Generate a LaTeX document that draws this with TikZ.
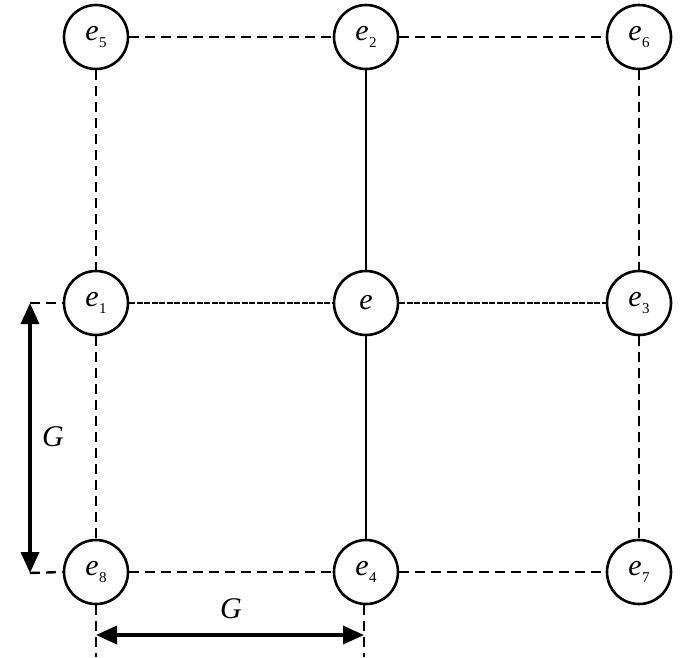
\documentclass[tikz,border=0pt]{standalone}
\usepackage{fontspec}
\setmainfont{Liberation Serif}
\usetikzlibrary{arrows.meta}
\newcommand{\elab}[1]{\textit{e}\kern0.5pt\raisebox{-7pt}{\fontsize{15}{15}\selectfont #1}}
\tikzset{
  gnode/.style={circle,draw,line width=2.6pt,minimum size=64pt,inner sep=0pt,fill=white,font=\fontsize{30}{30}\selectfont},
  outer/.style={line width=2.4pt,dash pattern=on 10pt off 6pt},
  midline/.style={line width=2.4pt,dash pattern=on 6pt off 1.5pt},
  solidline/.style={line width=2.4pt},
  dimline/.style={line width=3.5pt,{Triangle[length=21pt,width=18pt]}-{Triangle[length=21pt,width=18pt]}},
  extline/.style={line width=2.4pt,dash pattern=on 10pt off 6pt},
  dimlab/.style={font=\fontsize{30}{30}\selectfont\itshape}
}
\begin{document}
\begin{tikzpicture}[x=1pt,y=1pt]
\useasboundingbox (0,0) rectangle (700,-657);
% nodes
\node[gnode] (e5) at (96,-37) {\elab{5}};
\node[gnode] (e2) at (366,-37) {\elab{2}};
\node[gnode] (e6) at (639,-37) {\elab{6}};
\node[gnode] (e1) at (96,-303) {\elab{1}};
\node[gnode] (e)  at (366,-303) {\textit{e}};
\node[gnode] (e3) at (639,-303) {\elab{3}};
\node[gnode] (e8) at (96,-572) {\elab{8}};
\node[gnode] (e4) at (366,-572) {\elab{4}};
\node[gnode] (e7) at (639,-572) {\elab{7}};
% outer dashed edges
\draw[outer] (e5) -- (e2);
\draw[outer] (e2) -- (e6);
\draw[outer] (e5) -- (e1);
\draw[outer] (e1) -- (e8);
\draw[outer] (e6) -- (e3);
\draw[outer] (e3) -- (e7);
\draw[outer] (e8) -- (e4);
\draw[outer] (e4) -- (e7);
% central cross
\draw[solidline] (e2) -- (e);
\draw[solidline] (e) -- (e4);
\draw[midline] (e1) -- (e);
\draw[midline] (e) -- (e3);
% dimension helpers
\coordinate (lt) at (30,-303);
\coordinate (lb) at (30,-573);
\coordinate (bl) at (96,-657);
\coordinate (br) at (364,-657);
\coordinate (al) at (96,-635);
\coordinate (ar) at (364,-635);
\draw[extline] (lt) -- (e1.west);
\draw[extline] (lb) -- (e8.west);
\draw[extline] (e8.south) -- (bl);
\draw[extline] (e4.south -| br) -- (br);
\draw[dimline] (lt) -- (lb);
\draw[dimline] (al) -- (ar);
\node[dimlab] (gl) at (53,-437) {G};
\node[dimlab] (gb) at (231,-609) {G};
\end{tikzpicture}
\end{document}
